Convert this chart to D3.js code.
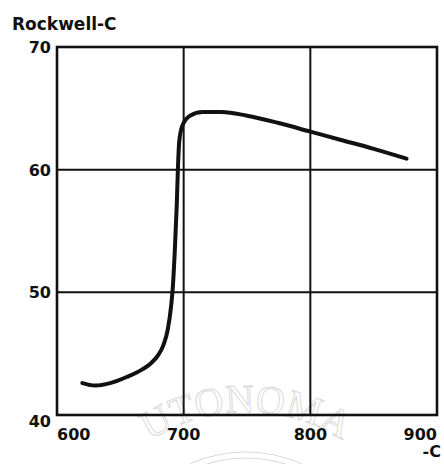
<!DOCTYPE html>
<html>
<head>
<meta charset="utf-8">
<script src="https://cdn.jsdelivr.net/npm/d3@7"></script>
<style>
  html, body { margin: 0; padding: 0; background: #fff; }
  svg { display: block; }
  text { font-family: "DejaVu Sans", sans-serif; font-weight: bold; fill: #111; }
</style>
</head>
<body>
<svg id="chart" width="444" height="464"></svg>
<script>
// Hardness (Rockwell-C) versus hardening temperature (°C)
const temperature = [620, 630, 642, 655, 667, 674, 680, 684, 687.5, 690, 691.5, 693, 694.5, 695.5, 696.5, 699, 705, 715, 730, 750, 775, 800, 825, 850, 876];
const hardness    = [42.6, 42.4, 42.6, 43.1, 43.7, 44.2, 44.9, 45.7, 47.0, 48.8, 50.5, 53.4, 57.0, 60.2, 62.3, 63.6, 64.4, 64.7, 64.7, 64.4, 63.8, 63.1, 62.4, 61.7, 60.9];

const xTicks = [600, 700, 800, 900];
const yTicks = [40, 50, 60, 70];
const yTitle = "Rockwell-C";
const xUnit = "-C";

const svg = d3.select("#chart");
const margin = { left: 57, right: 7, top: 47, bottom: 49 };
const W = 444, H = 464;

const x = d3.scaleLinear().domain([600, 900]).range([margin.left, W - margin.right]);
const y = d3.scaleLinear().domain([40, 70]).range([H - margin.bottom, margin.top]);

// faint library stamp behind the chart
const stamp = svg.append("g").attr("opacity", 0.22);
const cx = 246, cy = 590, r = 178;
stamp.append("path").attr("id", "stampArc")
  .attr("d", `M ${cx - r} ${cy} A ${r} ${r} 0 0 1 ${cx + r} ${cy}`)
  .attr("fill", "none");
stamp.append("text")
  .style("font-family", "Liberation Serif, serif")
  .style("font-weight", "normal")
  .style("font-size", "40px")
  .style("fill", "none")
  .style("stroke", "#555")
  .style("stroke-width", 1)
  .append("textPath")
  .attr("href", "#stampArc")
  .attr("startOffset", "50%")
  .attr("text-anchor", "middle")
  .text("UTONOMA");
[r - 40, r - 46].forEach(rr => {
  stamp.append("path")
    .attr("d", `M ${cx - rr} ${cy} A ${rr} ${rr} 0 0 1 ${cx + rr} ${cy}`)
    .attr("fill", "none").attr("stroke", "#555").attr("stroke-width", 1);
});

// grid
const grid = svg.append("g").attr("stroke", "#111").attr("stroke-width", 2);
grid.selectAll("line.vx").data(xTicks).join("line")
  .attr("x1", d => x(d)).attr("x2", d => x(d))
  .attr("y1", y(40)).attr("y2", y(70));
grid.selectAll("line.hy").data(yTicks).join("line")
  .attr("x1", x(600)).attr("x2", x(900))
  .attr("y1", d => y(d)).attr("y2", d => y(d));

// frame
svg.append("rect")
  .attr("x", x(600)).attr("y", y(70))
  .attr("width", x(900) - x(600)).attr("height", y(40) - y(70))
  .attr("fill", "none").attr("stroke", "#111").attr("stroke-width", 2.6);

// x tick labels
svg.append("g").selectAll("text").data(xTicks).join("text")
  .attr("x", d => x(d))
  .attr("y", y(40) + 25)
  .attr("text-anchor", (d, i) => i === 0 ? "start" : (i === xTicks.length - 1 ? "end" : "middle"))
  .style("font-size", "16px")
  .text(d => d);

// y tick labels
svg.append("g").selectAll("text").data(yTicks).join("text")
  .attr("x", x(600) - 6)
  .attr("y", d => d === 40 ? y(d) + 12 : y(d) + 6)
  .attr("text-anchor", "end")
  .style("font-size", "16px")
  .text(d => d);

// axis titles
svg.append("text").attr("x", 12).attr("y", 30)
  .style("font-size", "17px")
  .text(yTitle);
svg.append("text").attr("x", W - 3).attr("y", y(40) + 42)
  .attr("text-anchor", "end")
  .style("font-size", "16px")
  .text(xUnit);

// hardness curve
const pts = temperature.map((t, i) => [t, hardness[i]]);
svg.append("path")
  .datum(pts)
  .attr("fill", "none")
  .attr("stroke", "#111")
  .attr("stroke-width", 4)
  .attr("stroke-linecap", "round")
  .attr("stroke-linejoin", "round")
  .attr("d", d3.line().x(d => x(d[0])).y(d => y(d[1])).curve(d3.curveMonotoneX));
</script>
</body>
</html>
